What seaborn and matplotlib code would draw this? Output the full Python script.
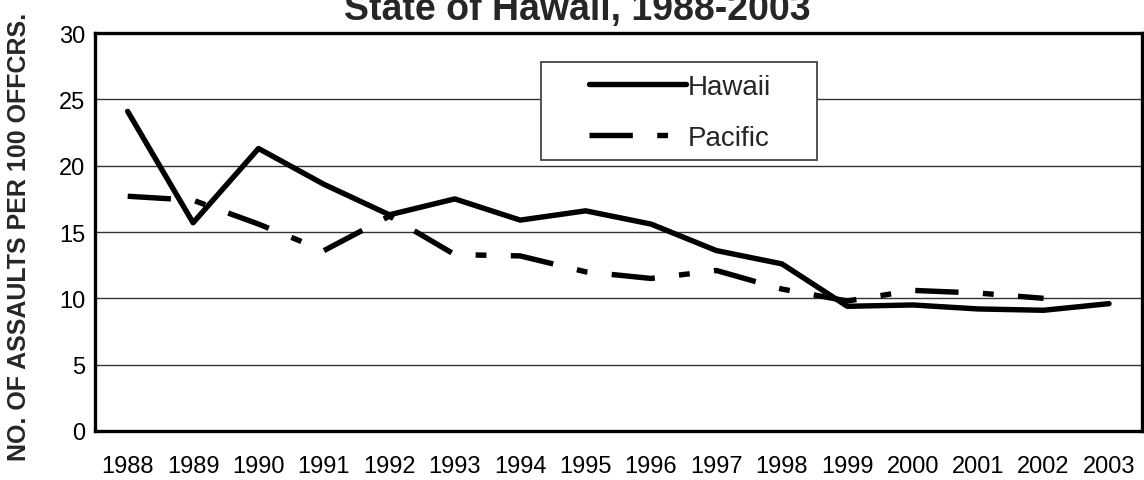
import pandas as pd
import numpy as np
import matplotlib
matplotlib.use("Agg")
import matplotlib.pyplot as plt
import seaborn as sns
from matplotlib.patches import Rectangle

# data
years = [str(y) for y in range(1988, 2004)]
hawaii = [24.1, 15.7, 21.3, 18.6, 16.3, 17.5, 15.9, 16.6, 15.6, 13.6, 12.6, 9.4, 9.5, 9.2, 9.1, 9.6]
pacific = [17.7, 17.4, 15.6, 13.6, 16.2, 13.3, 13.2, 12.0, 11.5, 12.1, 10.7, 9.8, 10.6, 10.4, 10.0]
yticks = [0, 5, 10, 15, 20, 25, 30]

df = pd.concat([
    pd.DataFrame({"year": years, "value": hawaii, "region": "Hawaii"}),
    pd.DataFrame({"year": years[:len(pacific)], "value": pacific, "region": "Pacific"}),
], ignore_index=True)

sns.set_style("white")
plt.rcParams["font.family"] = ["Liberation Sans", "DejaVu Sans"]

fig = plt.figure(figsize=(11.44, 4.81), dpi=100)
ax = fig.add_axes([0.083, 0.102, 0.915, 0.827])

sns.lineplot(data=df, x="year", y="value", style="region",
             dashes={"Hawaii": "", "Pacific": (8.0, 4.5, 2.0, 4.5)},
             color="black", linewidth=3.9, legend=False, sort=False, ax=ax)

for line in ax.lines:
    line.set_solid_capstyle("round")
    line.set_dash_capstyle("butt")

ax.set_xlim(-0.5, len(years) - 0.5)
ax.set_ylim(0, 30)
ax.set_yticks(yticks)
ax.yaxis.grid(True, color="#333333", linewidth=1)
ax.set_axisbelow(True)
ax.tick_params(axis="both", length=0, labelsize=17, colors="black")
ax.tick_params(axis="x", pad=17.5)
ax.tick_params(axis="y", pad=7)
ax.set_xlabel("")
ax.set_ylabel("")
for side in ["left", "bottom", "top", "right"]:
    ax.spines[side].set_visible(True)
    ax.spines[side].set_color("black")
    ax.spines[side].set_linewidth(2.4)

# legend box
ax.add_patch(Rectangle((0.426, 0.681), 0.264, 0.246, transform=ax.transAxes,
                       facecolor="white", edgecolor="#444444", linewidth=1.3, zorder=3))
ax.legend(ax.lines, ["Hawaii", "Pacific"], loc="center", bbox_to_anchor=(0.559, 0.800),
          frameon=False, fontsize=20, handlelength=3.5, handletextpad=0.05,
          labelspacing=0.9, borderpad=0).set_zorder(4)

fig.text(0.0166, 0.507, "NO. OF ASSAULTS PER 100 OFFCRS.", rotation=90,
         ha="center", va="center", fontsize=18, fontweight="bold")
fig.text(0.505, 0.958, "State of Hawaii, 1988-2003", ha="center", va="baseline",
         fontsize=27, fontweight="bold")

fig.savefig("out.png", dpi=100)
